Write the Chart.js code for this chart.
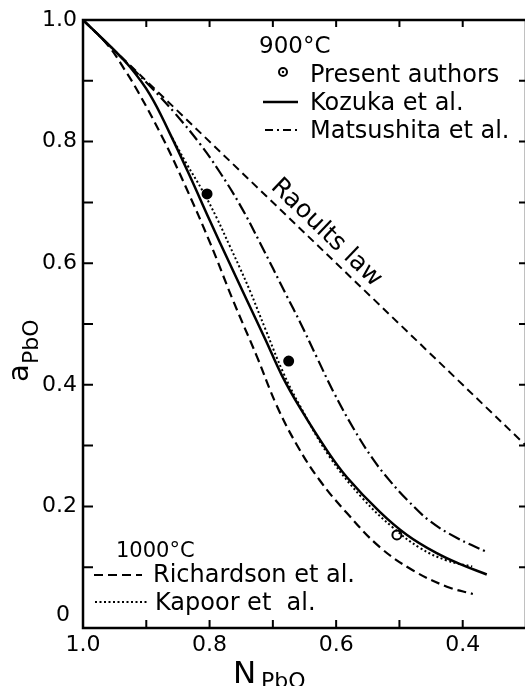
<!DOCTYPE html>
<html>
<head>
<meta charset="utf-8">
<script src="https://cdn.jsdelivr.net/npm/chart.js@4.4.0/dist/chart.umd.min.js"></script>
<style>
  html, body { margin: 0; padding: 0; background: #fff; overflow: hidden; }
  #wrap { width: 540px; height: 686px; }
</style>
</head>
<body>
<div id="wrap"><canvas id="c" width="540" height="686"></canvas></div>
<script>
// --- data: N(PbO) vs a(PbO) ---
const raoultN = [1.0, 0.3];
const raoultA = [1.0, 0.3];

// 900 °C
const presentN = [0.804, 0.675, 0.504];
const presentA = [0.714, 0.439, 0.153];

const kozukaN = [1.000, 0.957, 0.926, 0.894, 0.863, 0.831, 0.800, 0.768, 0.741, 0.712, 0.686, 0.657, 0.615, 0.583, 0.531, 0.488, 0.441, 0.404, 0.362];
const kozukaA = [1.000, 0.957, 0.923, 0.877, 0.814, 0.743, 0.671, 0.599, 0.539, 0.475, 0.416, 0.362, 0.293, 0.248, 0.191, 0.153, 0.123, 0.105, 0.088];

const matsuN = [1.000, 0.942, 0.894, 0.855, 0.815, 0.784, 0.752, 0.720, 0.678, 0.657, 0.630, 0.605, 0.573, 0.542, 0.515, 0.488, 0.452, 0.409, 0.362];
const matsuA = [1.000, 0.941, 0.891, 0.847, 0.796, 0.750, 0.696, 0.633, 0.546, 0.503, 0.444, 0.390, 0.329, 0.278, 0.242, 0.211, 0.176, 0.148, 0.125];

// 1000 °C
const richN = [1.000, 0.961, 0.934, 0.913, 0.874, 0.837, 0.799, 0.763, 0.725, 0.694, 0.662, 0.626, 0.583, 0.531, 0.479, 0.425, 0.384];
const richA = [1.000, 0.959, 0.918, 0.882, 0.806, 0.724, 0.633, 0.539, 0.446, 0.366, 0.301, 0.243, 0.189, 0.133, 0.095, 0.068, 0.056];

const kapoorN = [0.859, 0.836, 0.810, 0.788, 0.768, 0.752, 0.736, 0.712, 0.684, 0.657, 0.610, 0.558, 0.510, 0.468, 0.425, 0.385];
const kapoorA = [0.806, 0.763, 0.717, 0.673, 0.628, 0.592, 0.554, 0.492, 0.421, 0.365, 0.281, 0.213, 0.165, 0.132, 0.111, 0.101];

const FONT = "'DejaVu Sans', sans-serif";

const pts = (xs, ys) => xs.map((x, i) => ({ x, y: ys[i] }));

function line(xs, ys, dash, width) {
  return {
    data: pts(xs, ys),
    showLine: true,
    borderColor: '#000',
    borderWidth: width || 2.2,
    borderDash: dash,
    pointRadius: 0,
    tension: 0.4,
    fill: false
  };
}

// frame with inward ticks on all four sides
const frame = {
  id: 'frame',
  afterDatasetsDraw(chart) {
    const { ctx, chartArea: a, scales: { x, y } } = chart;
    ctx.save();
    ctx.strokeStyle = '#000';
    ctx.lineWidth = 2.5;
    ctx.strokeRect(a.left, a.top, a.right - a.left, a.bottom - a.top);
    ctx.lineWidth = 2;
    ctx.beginPath();
    x.ticks.forEach(t => {
      const p = x.getPixelForValue(t.value);
      ctx.moveTo(p, a.bottom); ctx.lineTo(p, a.bottom - 8);
      ctx.moveTo(p, a.top); ctx.lineTo(p, a.top + 7);
    });
    y.ticks.forEach(t => {
      const p = y.getPixelForValue(t.value);
      ctx.moveTo(a.left, p); ctx.lineTo(a.left + 10, p);
      ctx.moveTo(a.right, p); ctx.lineTo(a.right - 7, p);
    });
    ctx.stroke();
    ctx.restore();
  }
};

// axis titles, legends, Raoult label
const notes = {
  id: 'notes',
  afterDraw(chart) {
    const { ctx, scales: { x, y } } = chart;
    ctx.save();
    ctx.fillStyle = '#000';
    ctx.strokeStyle = '#000';
    ctx.textBaseline = 'alphabetic';
    ctx.textAlign = 'left';

    // corner "0"
    ctx.font = `22px ${FONT}`;
    ctx.fillText('0', 56, 621);

    // y title
    ctx.save();
    ctx.translate(28, 382);
    ctx.rotate(-Math.PI / 2);
    ctx.font = `29px ${FONT}`;
    ctx.fillText('a', 0, 0);
    ctx.font = `22px ${FONT}`;
    ctx.fillText('PbO', 18, 10);
    ctx.restore();

    // x title
    ctx.font = `31px ${FONT}`;
    ctx.fillText('N', 233, 683);
    ctx.font = `22px ${FONT}`;
    ctx.fillText('PbO', 261, 688);

    // 900 °C legend
    ctx.font = `23px ${FONT}`;
    ctx.fillText('900°C', 259, 53);
    ctx.font = `24px ${FONT}`;
    ctx.fillText('Present authors', 310, 82);
    ctx.fillText('Kozuka et al.', 310, 110);
    ctx.fillText('Matsushita et al.', 310, 138);

    ctx.lineWidth = 2;
    ctx.beginPath(); ctx.arc(283, 72, 4, 0, Math.PI * 2); ctx.stroke();
    ctx.beginPath(); ctx.arc(283, 72, 1.2, 0, Math.PI * 2); ctx.fill();

    ctx.lineWidth = 2.4;
    ctx.setLineDash([]);
    ctx.beginPath(); ctx.moveTo(263, 102); ctx.lineTo(298, 102); ctx.stroke();
    ctx.lineWidth = 2.2;
    ctx.setLineDash([8, 4, 2, 4]);
    ctx.beginPath(); ctx.moveTo(265, 130); ctx.lineTo(299, 130); ctx.stroke();

    // 1000 °C legend
    ctx.setLineDash([]);
    ctx.font = `21px ${FONT}`;
    ctx.fillText('1000°C', 116, 557);
    ctx.font = `24px ${FONT}`;
    ctx.fillText('Richardson et al.', 153, 582);
    ctx.fillText('Kapoor et  al.', 155, 610);
    ctx.setLineDash([9, 5]);
    ctx.beginPath(); ctx.moveTo(94, 575); ctx.lineTo(142, 575); ctx.stroke();
    ctx.setLineDash([2, 2.5]);
    ctx.lineWidth = 1.8;
    ctx.beginPath(); ctx.moveTo(95, 602); ctx.lineTo(148, 602); ctx.stroke();
    ctx.setLineDash([]);

    // Raoult's law label along the line
    const x1 = x.getPixelForValue(0.9), y1 = y.getPixelForValue(0.9);
    const x2 = x.getPixelForValue(0.4), y2 = y.getPixelForValue(0.4);
    const ang = Math.atan2(y2 - y1, x2 - x1);
    const cx = x.getPixelForValue(0.632), cy = y.getPixelForValue(0.632);
    const off = 15;
    ctx.translate(cx + off * Math.sin(ang), cy - off * Math.cos(ang));
    ctx.rotate(ang);
    ctx.font = `25px ${FONT}`;
    ctx.textAlign = 'center';
    ctx.textBaseline = 'middle';
    ctx.fillText('Raoults law', 0, 0);
    ctx.restore();
  }
};

new Chart(document.getElementById('c'), {
  type: 'scatter',
  data: {
    datasets: [
      line(raoultN, raoultA, [8, 5], 2),
      line(richN, richA, [9, 5]),
      line(kozukaN, kozukaA, [], 2.5),
      line(matsuN, matsuA, [12, 4, 2, 4]),
      line(kapoorN, kapoorA, [2, 2.5], 2),
      {
        data: pts(presentN, presentA),
        showLine: false,
        pointRadius: 4.5,
        pointBorderWidth: 2,
        pointBorderColor: '#000',
        pointBackgroundColor: ['#000', '#000', '#fff']
      }
    ]
  },
  options: {
    responsive: false,
    animation: false,
    layout: { padding: { top: 20, right: 14, left: 0, bottom: 0 } },
    plugins: { legend: { display: false }, tooltip: { enabled: false } },
    scales: {
      x: {
        type: 'linear', min: 0.3, max: 1.0, reverse: true,
        grid: { display: false, drawTicks: false },
        border: { display: false },
        afterFit: s => { s.height = 58; },
        ticks: {
          stepSize: 0.1, autoSkip: false, maxRotation: 0, padding: 4,
          color: '#000', font: { family: FONT, size: 22 },
          callback: v => { const r = Math.round(v * 10); return (r % 2 === 0 && r >= 4) ? v.toFixed(1) : ''; }
        }
      },
      y: {
        type: 'linear', min: 0, max: 1.0,
        grid: { display: false, drawTicks: false },
        border: { display: false },
        afterFit: s => { s.width = 83; },
        ticks: {
          stepSize: 0.1, autoSkip: false, padding: 6,
          color: '#000', font: { family: FONT, size: 22 },
          callback: v => { const r = Math.round(v * 10); return (r % 2 === 0 && r > 0) ? v.toFixed(1) : ''; }
        }
      }
    }
  },
  plugins: [frame, notes]
});
</script>
</body>
</html>
